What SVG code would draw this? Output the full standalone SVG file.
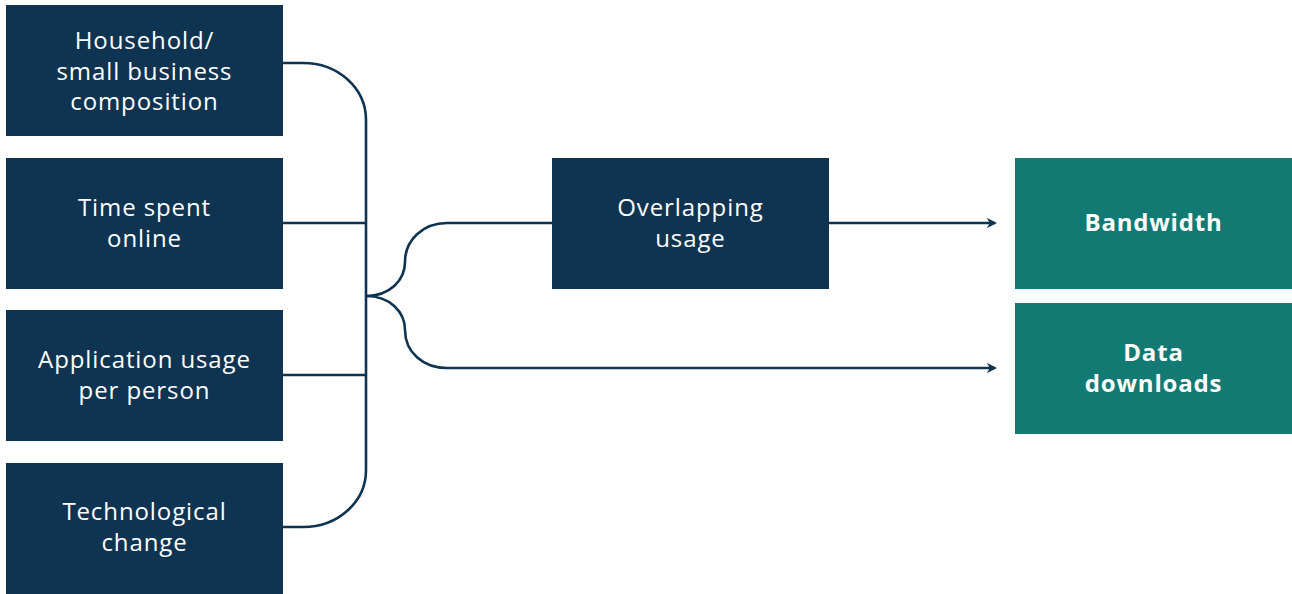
<svg xmlns="http://www.w3.org/2000/svg" width="1292" height="594" viewBox="0 0 1292 594">
  <style>
    .box { fill: #0f3451; }
    .out { fill: #127a72; }
    .lbl { fill: #ffffff; font-family: "Open Sans", "Liberation Sans", sans-serif; font-size: 24px; letter-spacing: 0.9px; text-anchor: middle; }
    .bold { font-weight: 700; letter-spacing: 0.8px; }
    .wire { fill: none; stroke: #0f3451; stroke-width: 2.6; }
  </style>
  <defs>
    <marker id="arrow" viewBox="0 0 10 10" refX="8" refY="5" markerWidth="4" markerHeight="4" orient="auto" markerUnits="strokeWidth">
      <path d="M0,0 L10,5 L0,10 L3,5 Z" fill="#0f3451"/>
    </marker>
  </defs>

  <g id="connectors">
    <path class="wire" d="M283,63 H303 C338,63 366,88 366,120 V470 C366,502 338,527 303,527 H283"/>
    <path class="wire" d="M283,223 H366"/>
    <path class="wire" d="M283,375 H366"/>
    <path class="wire" d="M366,296 C390,296 405,280 405,262 C405,240 423,223 447,223 H552"/>
    <path class="wire" d="M366,296 C390,296 405,312 405,330 C405,352 423,368 447,368 H995" marker-end="url(#arrow)"/>
    <path class="wire" d="M829,223 H995" marker-end="url(#arrow)"/>
  </g>

  <g id="household">
    <rect class="box" x="6" y="5" width="277" height="131"/>
    <text class="lbl" x="144.5" y="49">Household/</text>
    <text class="lbl" x="144.5" y="80">small business</text>
    <text class="lbl" x="144.5" y="110">composition</text>
  </g>
  <g id="time-online">
    <rect class="box" x="6" y="158" width="277" height="131"/>
    <text class="lbl" x="144.5" y="216">Time spent</text>
    <text class="lbl" x="144.5" y="247">online</text>
  </g>
  <g id="application-usage">
    <rect class="box" x="6" y="310" width="277" height="131"/>
    <text class="lbl" x="144.5" y="368">Application usage</text>
    <text class="lbl" x="144.5" y="399">per person</text>
  </g>
  <g id="technological-change">
    <rect class="box" x="6" y="463" width="277" height="131"/>
    <text class="lbl" x="144.5" y="520">Technological</text>
    <text class="lbl" x="144.5" y="551">change</text>
  </g>
  <g id="overlapping-usage">
    <rect class="box" x="552" y="158" width="277" height="131"/>
    <text class="lbl" x="690.5" y="216">Overlapping</text>
    <text class="lbl" x="690.5" y="247">usage</text>
  </g>
  <g id="bandwidth">
    <rect class="out" x="1015" y="158" width="277" height="131"/>
    <text class="lbl bold" x="1153.5" y="231">Bandwidth</text>
  </g>
  <g id="data-downloads">
    <rect class="out" x="1015" y="303" width="277" height="131"/>
    <text class="lbl bold" x="1153.5" y="361">Data</text>
    <text class="lbl bold" x="1153.5" y="392">downloads</text>
  </g>
</svg>
